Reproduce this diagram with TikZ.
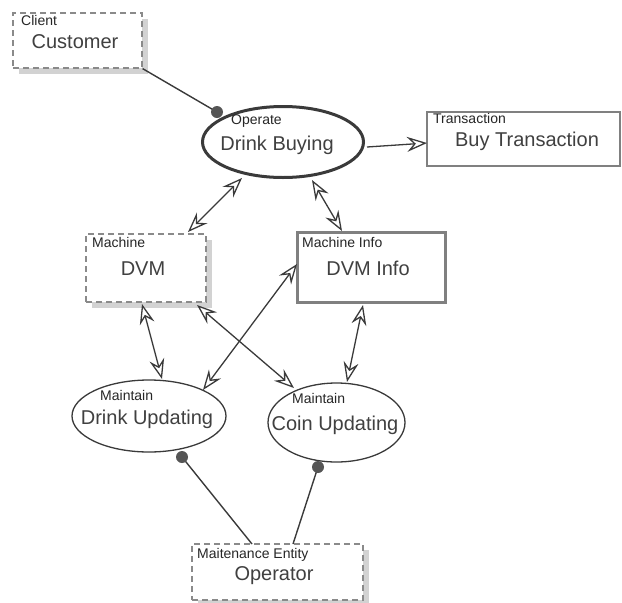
\documentclass[tikz,border=0pt]{standalone}
\usepackage{fontspec}
\setmainfont{Liberation Sans}
\usetikzlibrary{arrows.meta,shadows,shapes.geometric}
\definecolor{ink}{HTML}{3A3A3A}
\definecolor{txt}{HTML}{404040}
\definecolor{dashgray}{HTML}{8A8A8A}
\definecolor{boxgray}{HTML}{808080}
\definecolor{shad}{HTML}{D2D2D2}
\definecolor{dotgray}{HTML}{555555}
\begin{document}
\begin{tikzpicture}[x=1pt,y=-1pt,
  dbox/.style={rectangle, draw=dashgray, dash pattern=on 6pt off 4pt, line width=1.2pt, fill=white, inner sep=0pt,
    drop shadow={opacity=1, fill=shad, shadow xshift=6pt, shadow yshift=-6pt}},
  sbox/.style={rectangle, draw=boxgray, line width=1.5pt, fill=white, inner sep=0pt},
  tbox/.style={rectangle, draw=boxgray, line width=3.5pt, fill=white, inner sep=0pt},
  usecase/.style={ellipse, draw=ink, line width=1.3pt, fill=white, inner sep=0pt},
  mainuse/.style={ellipse, draw=ink, line width=3pt, fill=white, inner sep=0pt},
  maintext/.style={anchor=base, inner sep=0pt, text=txt, font=\fontsize{20}{24}\selectfont},
  stereo/.style={anchor=north west, inner sep=0pt, text=black!85, font=\fontsize{14}{16}\selectfont},
  openhead/.tip={Stealth[open,length=20pt,width=15pt,inset=7pt,fill=white,line width=1.3pt]},
  biarrow/.style={draw=ink, line width=1.3pt, {openhead}-{openhead}},
  onearrow/.style={draw=ink, line width=1.3pt, -{openhead}},
  assoc/.style={draw=ink, line width=1.4pt},
  dotend/.style={circle, fill=dotgray, inner sep=0pt, minimum size=12pt}
]
\useasboundingbox (0,0) rectangle (622,603);

% boxes
\node[dbox, minimum width=129pt, minimum height=55pt] (cust) at (77.5,40.5) {};
\node[sbox, minimum width=193pt, minimum height=54pt] (buy) at (523.5,139) {};
\node[dbox, minimum width=120pt, minimum height=68pt] (dvm) at (146,268) {};
\node[tbox, minimum width=148pt, minimum height=70pt] (dvminfo) at (371.5,267.5) {};
\node[dbox, minimum width=171pt, minimum height=56pt] (op) at (277.5,572) {};

% use cases
\node[mainuse, minimum width=161pt, minimum height=71pt] (db) at (283,142) {};
\node[usecase, minimum width=154pt, minimum height=72pt] (du) at (149,416) {};
\node[usecase, minimum width=137pt, minimum height=79pt] (cu) at (336.5,422.5) {};

% texts
\node[stereo] (custS) at (21,15) {Client};
\node[maintext] (custT) at (75,48) {Customer};
\node[stereo] (dbS) at (231,115) {Operate};
\node[maintext] (dbT) at (277,150) {Drink Buying};
\node[stereo] (buyS) at (433,113) {Transaction};
\node[maintext] (buyT) at (527,146) {Buy Transaction};
\node[stereo] (dvmS) at (92,237) {Machine};
\node[maintext] (dvmT) at (143,275) {DVM};
\node[stereo] (dvminfoS) at (302,237) {Machine Info};
\node[maintext] (dvminfoT) at (368,275) {DVM Info};
\node[stereo] (duS) at (100,390) {Maintain};
\node[maintext] (duT) at (147,424) {Drink Updating};
\node[stereo] (cuS) at (292,393) {Maintain};
\node[maintext] (cuT) at (335,430) {Coin Updating};
\node[stereo] (opS) at (197,548) {Maitenance Entity};
\node[maintext] (opT) at (274,580) {Operator};

% connector end points
\coordinate (dbL) at (242,178);
\coordinate (dvmT1) at (188,232);
\coordinate (dbR) at (312,180);
\coordinate (infoT) at (342,231);
\coordinate (dvmB1) at (142,304);
\coordinate (duT1) at (162,379);
\coordinate (dvmB2) at (197,305);
\coordinate (cuT1) at (294,388);
\coordinate (infoL) at (297,264);
\coordinate (duT2) at (203,390);
\coordinate (infoB) at (363,305);
\coordinate (cuT2) at (347,382);
\coordinate (dbE) at (367,147);
\coordinate (buyW) at (427,143);
\coordinate (opT1) at (252,544);
\coordinate (opT2) at (293,544);
\coordinate (pA) at (217,112);
\coordinate (pB) at (182,457);
\coordinate (pC) at (318,467);

% connectors
\draw[biarrow] (dbL) -- (dvmT1);
\draw[biarrow] (dbR) -- (infoT);
\draw[biarrow] (dvmB1) -- (duT1);
\draw[biarrow] (dvmB2) -- (cuT1);
\draw[biarrow] (infoL) -- (duT2);
\draw[biarrow] (infoB) -- (cuT2);
\draw[onearrow] (dbE) -- (buyW);

\draw[assoc] (cust.south east) -- (pA);
\draw[assoc] (pB) -- (opT1);
\draw[assoc] (pC) -- (opT2);
\node[dotend] (dotA) at (pA) {};
\node[dotend] (dotB) at (pB) {};
\node[dotend] (dotC) at (pC) {};
\end{tikzpicture}
\end{document}
